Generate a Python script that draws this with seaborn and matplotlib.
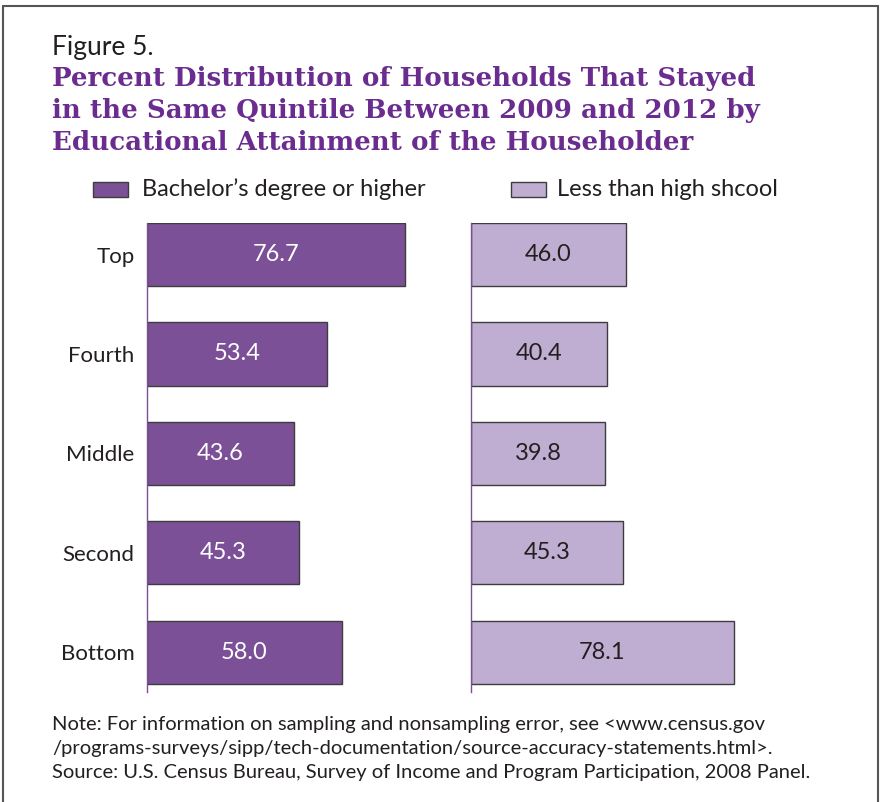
import matplotlib
matplotlib.use("Agg")
import matplotlib.pyplot as plt
from matplotlib.patches import Rectangle
from matplotlib.lines import Line2D
import seaborn as sns

sns.set_theme(style="white")
plt.rcParams["font.family"] = ["Lato", "DejaVu Sans"]

quintiles = ["Top", "Fourth", "Middle", "Second", "Bottom"]
bachelor = [76.7, 53.4, 43.6, 45.3, 58.0]
less_hs = [46.0, 40.4, 39.8, 45.3, 78.1]
series_names = ["Bachelor\u2019s degree or higher", "Less than high shcool"]

DARK = "#7b5096"
LIGHT = "#c0aed2"
TITLE = "#6b2c8f"
TEXT = "#231f20"
EDGE = "#3d3d3d"

W, H = 881, 802
fig = plt.figure(figsize=(W / 100, H / 100), dpi=100)


def fx(px):
    return px / W


def fy(py):
    return 1 - py / H


# frame
for xs, ys in [((3, 878), (6, 6)), ((3, 3), (6, 802)), ((878, 878), (6, 802))]:
    fig.add_artist(Line2D([fx(x) for x in xs], [fy(y) for y in ys],
                          color="#555555", lw=1.5, transform=fig.transFigure))

fig.text(fx(52), fy(55), "Figure 5.", fontsize=19, color=TEXT, va="baseline")
title_lines = ["Percent Distribution of Households That Stayed",
               "in the Same Quintile Between 2009 and 2012 by",
               "Educational Attainment of the Householder"]
for i, line in enumerate(title_lines):
    fig.text(fx(52), fy(86 + 32 * i), line, fontsize=18.8, color=TITLE,
             fontweight="bold", family="DejaVu Serif", va="baseline")

panels = [(147, bachelor, DARK, "white", 93, 142, series_names[0]),
          (471, less_hs, LIGHT, TEXT, 511, 557, series_names[1])]

for i, (left, vals, color, lab_color, lx, tx, name) in enumerate(panels):
    ax = fig.add_axes([fx(left), fy(692), 80 * 3.364 / W, (692 - 223) / H])
    sns.barplot(x=vals, y=quintiles, orient="h", color=color, width=0.635,
                edgecolor=EDGE, linewidth=1, saturation=1, ax=ax)
    ax.set_xlim(0, 80)
    ax.set_ylim(4.4, -0.317)
    for s in ["top", "right", "bottom"]:
        ax.spines[s].set_visible(False)
    ax.spines["left"].set_color(DARK)
    ax.spines["left"].set_linewidth(1)
    ax.set_xticks([])
    ax.set_xlabel("")
    ax.set_ylabel("")
    ax.tick_params(axis="y", length=0, pad=9, labelsize=16, labelcolor=TEXT)
    if i == 1:
        ax.set_yticklabels([])
    bar_texts = ax.bar_label(ax.containers[0], fmt="%.1f", label_type="center",
                             color=lab_color, fontsize=17)
    for t in bar_texts:
        t.set_y(t.get_position()[1] + 0.03)
    ax.patch.set_alpha(0)

    # legend key
    fig.add_artist(Rectangle((fx(lx), fy(197)), 35 / W, 15 / H, facecolor=color,
                             edgecolor=EDGE, lw=1, transform=fig.transFigure))
    fig.text(fx(tx), fy(189), name, fontsize=17, color=TEXT, va="center")

notes = ["Note: For information on sampling and nonsampling error, see <www.census.gov",
         "/programs-surveys/sipp/tech-documentation/source-accuracy-statements.html>.",
         "Source: U.S. Census Bureau, Survey of Income and Program Participation, 2008 Panel."]
for i, line in enumerate(notes):
    fig.text(fx(52), fy(730 + 24 * i), line, fontsize=14.5, color=TEXT, va="baseline")

fig.savefig("out.png", dpi=100)
